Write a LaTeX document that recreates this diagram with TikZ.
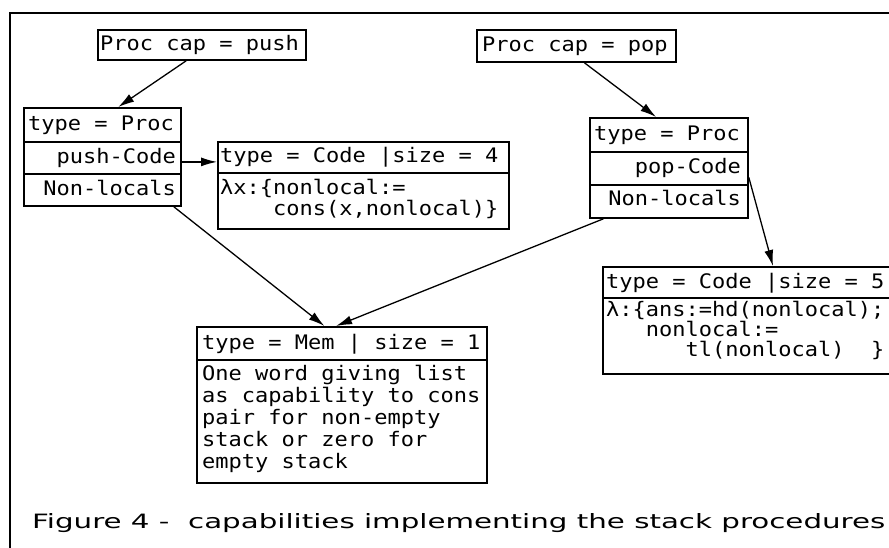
\documentclass[tikz,border=0pt]{standalone}
\usepackage{fontspec}
\usepackage{graphicx}
\usetikzlibrary{arrows.meta,calc}
\newfontfamily\boxfont[FakeStretch=1.1]{DejaVu Sans Mono}
\newfontfamily\capfont{DejaVu Sans}
\tikzset{
  box/.style={draw, line width=1.8pt, inner sep=0pt, anchor=north west},
  txt/.style={inner sep=0pt, anchor=base west, font=\boxfont\fontsize{20}{22}\selectfont},
  txtr/.style={txt, anchor=base east},
  arr/.style={line width=1.3pt, -{Latex[length=16pt,width=9pt]}},
}
\begin{document}
\begin{tikzpicture}[x=1pt,y=-1pt]
\useasboundingbox (0,0) rectangle (889,548);
\clip (0,0) rectangle (889,548);
% frame
\draw[line width=1.8pt] (10,560) -- (10,13) -- (900,13);
% push side
\node[box, minimum width=208pt, minimum height=30pt] (pushcap) at (97,29) {};
\node[box, minimum width=157pt, minimum height=34pt] (pushtype) at (23,107) {};
\node[box, minimum width=157pt, minimum height=32pt] (pushcodeRow) at (23,141) {};
\node[box, minimum width=157pt, minimum height=32pt] (pushnl) at (23,173) {};
\node[box, minimum width=291pt, minimum height=31pt] (pushcodeH) at (217,141) {};
\node[box, minimum width=291pt, minimum height=56pt] (pushcodeB) at (217,172) {};
% pop side
\node[box, minimum width=199pt, minimum height=32pt] (popcap) at (476,29) {};
\node[box, minimum width=158pt, minimum height=34pt] (poptype) at (589,117) {};
\node[box, minimum width=158pt, minimum height=33pt] (popcodeRow) at (589,151) {};
\node[box, minimum width=158pt, minimum height=33pt] (popnl) at (589,184) {};
\node[box, minimum width=293pt, minimum height=31pt] (popcodeH) at (602,266) {};
\node[box, minimum width=293pt, minimum height=76pt] (popcodeB) at (602,297) {};
% memory
\node[box, minimum width=290pt, minimum height=33pt] (memH) at (196,326) {};
\node[box, minimum width=290pt, minimum height=123pt] (memB) at (196,359) {};
% texts
\node[txt] (t1) at (100,51) {Proc cap = push};
\node[txt] (t2) at (28,131) {type = Proc};
\node[txtr] (t3) at (176,164) {push-Code};
\node[txtr] (t4) at (176,196) {Non-locals};
\node[txt] (t5) at (220,163) {type = Code |size = 4};
\node[txt] (t6) at (220,195) {λx:\{nonlocal:=};
\node[txt] (t7) at (220,216) {\phantom{xxxx}cons(x,nonlocal)\}};
\node[txt] (t8) at (482,52) {Proc cap = pop};
\node[txt] (t9) at (594,141) {type = Proc};
\node[txtr] (t10) at (741,174) {pop-Code};
\node[txtr] (t11) at (741,206) {Non-locals};
\node[txt] (t12) at (606,288) {type = Code |size = 5};
\node[txt] (t13) at (606,316) {λ:\{ans:=hd(nonlocal);};
\node[txt] (t14) at (606,336) {\phantom{xxx}nonlocal:=};
\node[txt] (t15) at (606,356) {\phantom{xxxxxx}tl(nonlocal)\phantom{xx}\}};
\node[txt] (t16) at (202,349) {type = Mem | size = 1};
\node[txt] (t17) at (202,380) {One word giving list};
\node[txt] (t18) at (202,402) {as capability to cons};
\node[txt] (t19) at (202,424) {pair for non-empty};
\node[txt] (t20) at (202,446) {stack or zero for};
\node[txt] (t21) at (202,468) {empty stack};
% arrows
\draw[arr] ($(pushcap.south west)!0.425!(pushcap.south east)$) -- ($(pushtype.north west)!0.6!(pushtype.north east)$);
\draw[arr] ($(pushcodeRow.east)+(0,4)$) -- ($(pushcodeH.west)+(0,4.5)$);
\draw[arr] ($(pushnl.south west)!0.95!(pushnl.south east)$) -- ($(memH.north west)!0.44!(memH.north east)$);
\draw[arr] ($(popnl.south west)!0.09!(popnl.south east)$) -- ($(memH.north west)!0.48!(memH.north east)$);
\draw[arr] ($(popcap.south west)!0.54!(popcap.south east)$) -- ($(poptype.north west)!0.42!(poptype.north east)$);
\draw[arr] ($(popcodeRow.east)+(0,9)$) -- ($(popcodeH.north west)!0.58!(popcodeH.north east)$);
% caption
\node[anchor=base west, inner sep=0pt] (caption) at (32,528) {\resizebox{853pt}{15pt}{\capfont Figure 4 -\ \ capabilities implementing the stack procedures}};
\end{tikzpicture}
\end{document}
